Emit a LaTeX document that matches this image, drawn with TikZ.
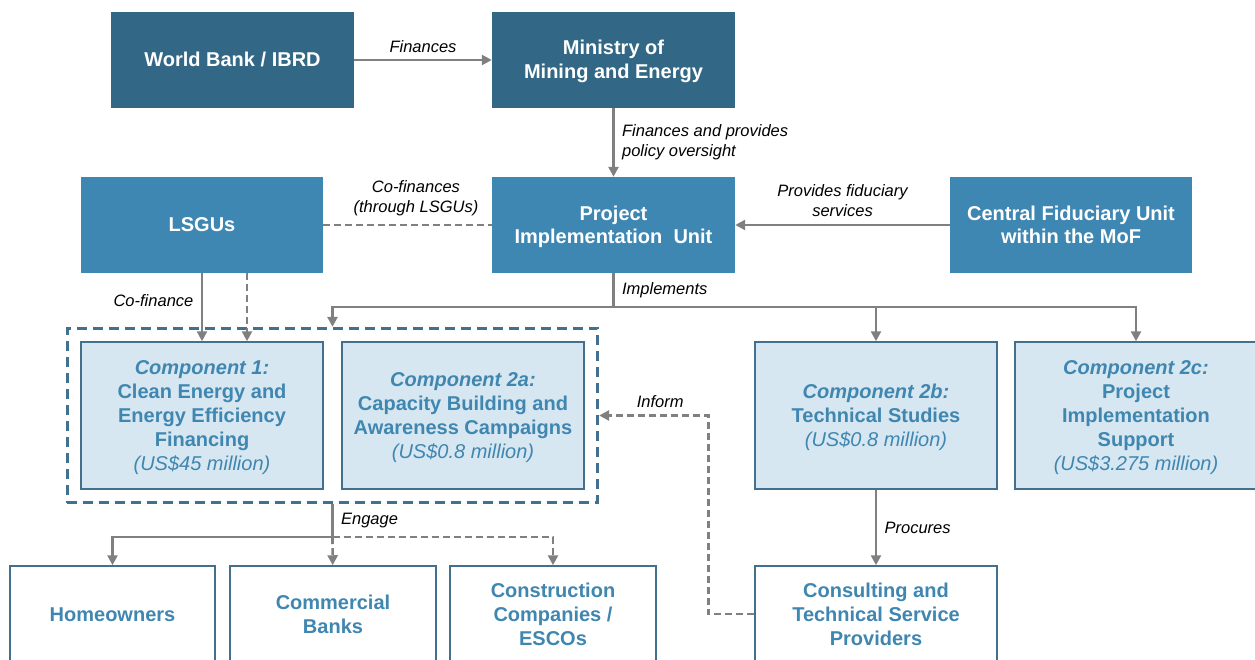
\documentclass[tikz,border=0pt]{standalone}
\usepackage{fontspec}
\setmainfont{Liberation Sans}
\usetikzlibrary{positioning,arrows.meta,fit,calc}

\definecolor{dkblue}{HTML}{326886}
\definecolor{mdblue}{HTML}{3E87B2}
\definecolor{ltblue}{HTML}{D7E7F1}
\definecolor{bdblue}{HTML}{41718E}
\definecolor{txblue}{HTML}{3F86B0}
\definecolor{arrgray}{HTML}{808080}
\newcommand\bxfont{\fontsize{20}{24}\selectfont\bfseries}
\newcommand\lblfont{\fontsize{16.5}{20}\selectfont\itshape}
% struts so the block of lines sits centred on the cap line
\newcommand\bxt[1]{\rule{0pt}{19pt}#1\rule[-5pt]{0pt}{5pt}}

\begin{document}
\begin{tikzpicture}[x=1pt, y=-1pt,
  boxtext/.style={align=center,font=\bxfont,inner sep=2pt},
  solidbox/.style={boxtext,minimum width=243pt,minimum height=96pt,text=white},
  topbox/.style={solidbox,fill=dkblue},
  unitbox/.style={solidbox,fill=mdblue},
  compbox/.style={boxtext,draw=bdblue,line width=1.5pt,fill=ltblue,text=txblue,
    minimum width=242pt,minimum height=147pt},
  actorbox/.style={boxtext,draw=bdblue,line width=1.5pt,fill=white,text=txblue,
    minimum width=205pt,minimum height=96pt},
  lbl/.style={font=\lblfont,text=black,align=center},
  arr/.style={draw=arrgray,line width=2.6pt,-{Triangle[length=10pt,width=10pt]}},
  link/.style={draw=arrgray,line width=2.6pt},
  dashln/.style={dash pattern=on 7pt off 4pt}]
  \useasboundingbox (0,0) rectangle (1255,660);
  \clip (0,0) rectangle (1255,660);

  % financing chain
  \node[topbox] (wb) at (232.5,60) {\bxt{World Bank / IBRD}};
  \node[topbox] (mme) at (613.5,60) {\bxt{Ministry of\\Mining and Energy}};
  \node[unitbox] (piu) at (613.5,225) {\bxt{Project\\Implementation~~Unit}};
  \node[unitbox,minimum width=242pt] (lsgu) at (202,225) {\bxt{LSGUs}};
  \node[unitbox,minimum width=242pt] (cfu) at (1071,225) {\bxt{Central Fiduciary Unit\\within the MoF}};
  \draw[arr] (wb) -- node[lbl,above=3pt]{Finances} (mme);
  \draw[arr] (mme) -- node[lbl,right=4pt,align=left]{Finances and provides\\policy oversight} (piu);
  \draw[arr] (cfu) -- node[lbl,above=4pt]{Provides fiduciary\\services} (piu);
  \draw[link,dashln] (lsgu) -- node[lbl,above=4pt,pos=0.55]{Co-finances\\(through LSGUs)} (piu);

  % components
  \node[compbox] (c1) at (202,415.5) {\bxt{\textit{Component 1:}\\Clean Energy and\\Energy Efficiency\\Financing\\{\mdseries\itshape (US\$45 million)}}};
  \node[compbox] (c2a) at (463,415.5) {\bxt{\textit{Component 2a:}\\Capacity Building and\\Awareness Campaigns\\{\mdseries\itshape (US\$0.8 million)}}};
  \node[compbox] (c2b) at (876,415.5) {\bxt{\textit{Component 2b:}\\Technical Studies\\{\mdseries\itshape (US\$0.8 million)}}};
  \node[compbox] (c2c) at (1136,415.5) {\bxt{\textit{Component 2c:}\\Project\\Implementation\\Support\\{\mdseries\itshape (US\$3.275 million)}}};
  \node[draw=bdblue,line width=2.8pt,dash pattern=on 10pt off 6pt,inner sep=13pt,fit=(c1)(c2a)] (grp) {};

  % PIU implements
  \draw[link] (piu) -- node[lbl,right=4pt]{Implements} ++(0,82) coordinate (imp);
  \draw[arr] (imp) -| (grp.north);
  \draw[arr] (imp) -| (c2b);
  \draw[arr] (imp) -| (c2c);

  % LSGU co-financing
  \draw[arr] (lsgu) -- node[lbl,left=4pt,pos=0.4]{Co-finance} (c1);
  \draw[arr,dashln] ([xshift=45pt]lsgu.south) -- ([xshift=45pt]c1.north);

  % actors
  \node[actorbox] (home) at (112.5,614) {\bxt{Homeowners}};
  \node[actorbox,minimum width=206pt] (bank) at (333,614) {\bxt{Commercial\\Banks}};
  \node[actorbox,minimum width=206pt] (esco) at (553,614) {\bxt{Construction\\Companies /\\ESCOs}};
  \node[actorbox,minimum width=242pt] (csp) at (876,614) {\bxt{Consulting and\\Technical Service\\Providers}};
  \draw[link] (grp.south) -- node[lbl,right=4pt]{Engage} ++(0,33) coordinate (eng);
  \draw[arr] (eng) -| (home);
  \draw[arr,dashln] (eng) -- (bank);
  \draw[arr,dashln] (eng) -| (esco);
  \draw[arr] (c2b) -- node[lbl,right=4pt]{Procures} (csp);
  \draw[arr,dashln] (csp.west) -- ++(-46,0) |- node[lbl,above=3pt,pos=0.72]{Inform} (grp.east);
\end{tikzpicture}
\end{document}
